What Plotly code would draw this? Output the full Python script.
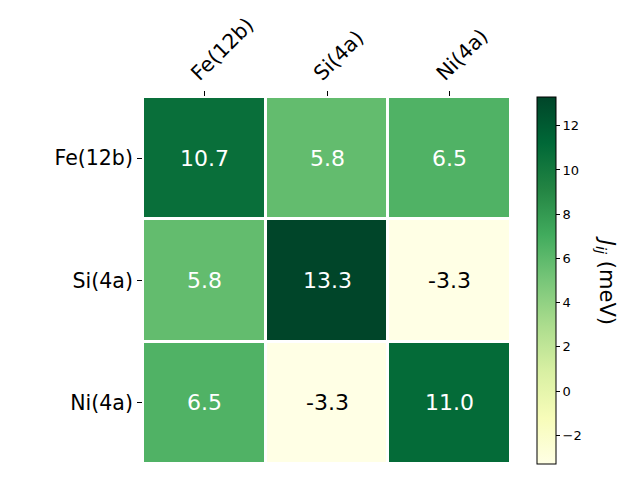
import plotly.graph_objects as go
import plotly.express as px

labels = ["Fe(12b)", "Si(4a)", "Ni(4a)"]
values = [
    [10.7, 5.8, 6.5],
    [5.8, 13.3, -3.3],
    [6.5, -3.3, 11.0],
]
cbar_ticks = [-2, 0, 2, 4, 6, 8, 10, 12]

font = "DejaVu Sans"
zmin, zmax = -3.3, 13.3

fig = go.Figure()
fig.add_trace(go.Heatmap(
    z=values, x=labels, y=labels,
    colorscale=px.colors.sequential.YlGn,
    zmin=zmin, zmax=zmax,
    xgap=3, ygap=3,
    hoverinfo="skip",
    colorbar=dict(
        x=1.0707, xanchor="left", xref="paper", xpad=0, ypad=0,
        y=0.5, yanchor="middle", len=1.0, lenmode="fraction",
        thickness=19, outlinewidth=1, outlinecolor="black",
        tickvals=cbar_ticks, ticks="outside", ticklen=4, tickwidth=1, tickcolor="black",
        tickfont=dict(family=font, size=13, color="black"),
        tickformat="d",
    ),
))

mid = (zmin + zmax) / 2
for i, row in enumerate(values):
    for j, v in enumerate(row):
        fig.add_annotation(
            x=labels[j], y=labels[i], text=f"{v:.1f}", showarrow=False,
            font=dict(family=font, size=22, color="white" if v > mid - 3 else "black"),
        )

fig.add_annotation(
    xref="paper", yref="paper", x=1.26, xanchor="center", y=0.5,
    text="<i>J</i><sub><i>ij</i></sub> (meV)", showarrow=False,
    textangle=90, font=dict(family=font, size=21, color="black"),
)

fig.update_xaxes(
    side="top", tickangle=-45, ticks="outside", ticklen=5, tickcolor="black",
    tickfont=dict(family=font, size=20.5, color="black"), showgrid=False, zeroline=False,
    showline=False, automargin=False, ticklabelshift=-12, ticklabelstandoff=-2,
)
fig.update_yaxes(
    autorange="reversed", ticks="outside", ticklen=5, tickcolor="black",
    tickfont=dict(family=font, size=20.5, color="black"), showgrid=False, zeroline=False,
    showline=False, automargin=False,
)
fig.update_layout(
    width=632, height=472,
    margin=dict(l=135, r=129, t=89, b=16, autoexpand=False),
    paper_bgcolor="white", plot_bgcolor="white",
    font=dict(family=font),
)
fig.write_html("out.html")
